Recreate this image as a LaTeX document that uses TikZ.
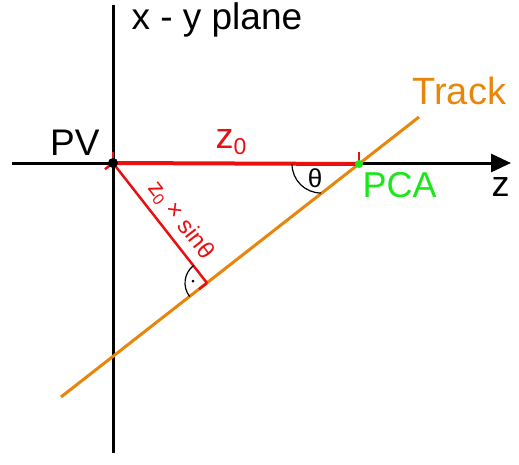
\documentclass[tikz,border=0pt]{standalone}
\usepackage{fontspec}
\setmainfont{Liberation Sans}
\usetikzlibrary{arrows.meta}
\definecolor{trackorange}{RGB}{232,134,12}
\definecolor{zred}{RGB}{232,16,16}
\definecolor{pcagreen}{RGB}{24,232,24}
\newcommand{\fsz}[1]{\fontsize{#1}{#1}\selectfont}

\begin{document}
\begin{tikzpicture}[x=1pt,y=-1pt,>={Triangle[length=20pt,width=18pt]},line width=3pt,
  lbl/.style={inner sep=0pt}]
\useasboundingbox (0,0) rectangle (519,464);

% points
\coordinate (pv) at (113,163);
\coordinate (pca) at (359,164);
\coordinate (foot) at (207,283);
\coordinate (tlo) at (61,397);
\coordinate (thi) at (419,117);
\coordinate (ytop) at (113,5);
\coordinate (ybot) at (113,453);
\coordinate (zlo) at (12,163);
\coordinate (zhi) at (511,163);

% axes
\draw (ytop) -- (ybot);
\draw[->] (zlo) -- (zhi);
\node[lbl,anchor=base west,font=\fsz{37}] (plane) at (130,29) {x - y plane};
\node[lbl,anchor=base east,font=\fsz{36}] (zlab) at (511,196) {z};

% track
\draw[trackorange] (tlo) -- (thi);
\node[lbl,anchor=base west,font=\fsz{38},text=trackorange] (tracklab) at (411,104) {Track};

% z0
\draw[zred,line width=4pt] (pv) -- (pca);
\draw[zred,line width=2.5pt] (pv) -- ++(0,-11);
\draw[zred,line width=2.5pt] (pca) -- ++(0,-12);
\node[lbl,anchor=base west,font=\fsz{36},text=zred] (z0lab) at (214,148)
  {z\raisebox{-6pt}{\fsz{23}0}};

% distance to track
\draw[zred,line width=2.5pt] (pv) -- (foot)
  node[lbl,pos=0.57,sloped,above=6pt,font=\fsz{24},text=zred] (dlab)
  {z\raisebox{-4pt}{\fsz{16}0} × sinθ};
\draw[zred,line width=2.5pt] (pv) -- ++(-8,6.2);
\draw[zred,line width=2.5pt] (foot) -- ++(-8,6.2);

% angles
\draw[line width=1.2pt] (292,164) arc[start angle=180,end angle=90,radius=29];
\node[lbl,font=\fsz{26}] (thetalab) at (315,178) {θ};
\draw[line width=1.2pt] (foot) ++(232:22) arc[start angle=232,end angle=142,radius=22];
\fill (193,281) circle (1.5);

% vertices
\fill (pv) circle (5);
\fill[pcagreen] (pca) circle (4);
\node[lbl,anchor=base east,font=\fsz{37}] (pvlab) at (101,155) {PV};
\node[lbl,anchor=base west,font=\fsz{36},text=pcagreen] (pcalab) at (361,197) {PCA};

\end{tikzpicture}
\end{document}
